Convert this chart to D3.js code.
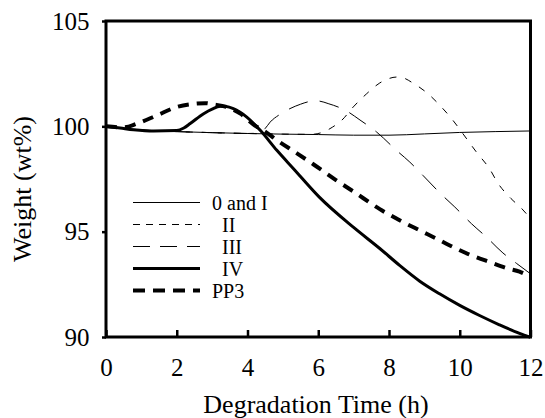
<!doctype html>
<html>
  <head>
    <meta charset="utf-8">
    <style>
      body { margin: 0; background: #fff; }
      svg, svg text { font-family: "Liberation Serif", "Times New Roman", serif !important; fill: #000; }
    </style>
  </head>
  <body>
    <div id="chart"></div>
    <script src="https://d3js.org/d3.v7.min.js"></script>
    <script>
      // data (time in h, weight in wt%)
      const time0I = [0, 0.5, 1, 1.5, 2, 3, 4, 5, 6, 7, 8, 9, 10, 11, 12];
      const weight0I = [100, 99.9, 99.83, 99.78, 99.75, 99.7, 99.66, 99.63, 99.61, 99.58, 99.58, 99.64, 99.71, 99.75, 99.78];

      const timeII = [0, 1, 2, 3, 4, 5, 5.8, 6.14, 6.4, 6.66, 6.99, 7.37, 7.74, 8.0, 8.21, 8.4, 8.68, 9.1, 9.48, 9.81, 10.09, 10.47, 10.84, 11.08, 11.45, 11.75, 12];
      const weightII = [100, 99.83, 99.75, 99.7, 99.66, 99.63, 99.62, 99.73, 99.96, 100.28, 100.92, 101.55, 102.06, 102.27, 102.34, 102.3, 102.05, 101.55, 100.92, 100.28, 99.65, 98.78, 97.99, 97.3, 96.57, 96.1, 95.62];

      const timeIII = [0, 1, 2, 3, 4, 4.3, 4.5, 4.64, 4.9, 5.2, 5.5, 5.77, 6.0, 6.28, 6.8, 7.18, 7.65, 8.21, 8.59, 8.96, 9.48, 9.86, 10.33, 10.75, 11.22, 11.6, 12];
      const weightIII = [100, 99.83, 99.75, 99.7, 99.66, 99.68, 99.9, 100.2, 100.55, 100.84, 101.05, 101.18, 101.2, 101.08, 100.73, 100.3, 99.73, 98.86, 98.3, 97.67, 96.77, 96.17, 95.38, 94.75, 93.99, 93.5, 93.0];

      const timeIV = [0, 0.4, 0.78, 1.35, 2.0, 2.2, 2.38, 2.76, 3.0, 3.23, 3.4, 3.6, 3.98, 4.36, 4.83, 5.3, 6.03, 7.0, 7.74, 8.3, 8.87, 9.43, 10.0, 10.56, 11.12, 11.69, 12];
      const weightIV = [100, 99.92, 99.84, 99.78, 99.8, 99.92, 100.13, 100.6, 100.82, 100.95, 100.94, 100.84, 100.44, 99.81, 98.86, 97.99, 96.64, 95.2, 94.2, 93.4, 92.65, 92.05, 91.5, 91.02, 90.58, 90.17, 89.98];

      const timePP3 = [0, 0.5, 0.88, 1.44, 2.0, 2.57, 2.8, 3.04, 3.4, 3.8, 4.2, 4.5, 4.83, 5.34, 5.86, 6.5, 7.0, 7.74, 8.3, 8.87, 9.34, 9.81, 10.28, 10.84, 11.36, 11.69, 12];
      const weightPP3 = [100, 99.95, 100.13, 100.52, 100.92, 101.08, 101.1, 101.04, 100.92, 100.6, 100.05, 99.75, 99.34, 98.78, 98.2, 97.45, 96.9, 96.07, 95.54, 95.06, 94.67, 94.27, 93.91, 93.56, 93.25, 93.1, 92.85];

      const seriesNames = ['0 and I', '  II', '  III', '  IV', 'PP3'];
      const xTicks = [0, 2, 4, 6, 8, 10, 12];
      const yTicks = [90, 95, 100, 105];

      const series = [
        { name: seriesNames[0], t: time0I, w: weight0I, width: 1, dash: null, legDash: null },
        { name: seriesNames[1], t: timeII, w: weightII, width: 1, dash: '7,9', legDash: '7,6' },
        { name: seriesNames[2], t: timeIII, w: weightIII, width: 1, dash: '20,12', legDash: '17,10' },
        { name: seriesNames[3], t: timeIV, w: weightIV, width: 3, dash: null, legDash: null },
        { name: seriesNames[4], t: timePP3, w: weightPP3, width: 4, dash: '11,8', legDash: '12,8' }
      ];

      const serif = '"Liberation Serif", "Times New Roman", serif';
      const width = 545, height = 418;
      const x = d3.scaleLinear().domain([0, 12]).range([106, 530.5]);
      const y = d3.scaleLinear().domain([90, 105]).range([337, 21]);

      const svg = d3.select('#chart').append('svg')
        .attr('width', width)
        .attr('height', height)
        .style('font-family', serif);

      const line = d3.line()
        .x(d => x(d[0]))
        .y(d => y(d[1]))
        .curve(d3.curveMonotoneX);

      const plot = svg.append('g');
      plot.append('defs').append('clipPath').attr('id', 'clip')
        .append('rect')
        .attr('x', x(0)).attr('y', y(105))
        .attr('width', x(12) - x(0)).attr('height', y(90) - y(105) + 2);

      plot.selectAll('path.series')
        .data(series)
        .join('path')
        .attr('class', 'series')
        .attr('clip-path', 'url(#clip)')
        .attr('fill', 'none')
        .attr('stroke', '#000')
        .attr('stroke-width', d => d.width)
        .attr('stroke-dasharray', d => d.dash)
        .attr('stroke-linejoin', 'round')
        .attr('d', d => line(d.t.map((t, i) => [t, d.w[i]])));

      // axes
      const xAxis = svg.append('g')
        .attr('transform', `translate(0,${y(90)})`)
        .call(d3.axisBottom(x).tickValues(xTicks).tickSizeInner(-7).tickSizeOuter(0).tickPadding(21));
      xAxis.attr('font-family', null);
      xAxis.select('.domain').remove();
      xAxis.selectAll('.tick line').attr('stroke-width', 2.5);
      xAxis.selectAll('.tick text').attr('font-size', 25).style('font-family', serif);

      const yAxis = svg.append('g')
        .attr('transform', `translate(${x(0)},0)`)
        .call(d3.axisLeft(y).tickValues(yTicks).tickSizeInner(4).tickSizeOuter(0).tickPadding(12.5));
      yAxis.attr('font-family', null);
      yAxis.select('.domain').remove();
      yAxis.selectAll('.tick line').attr('stroke-width', 2.5);
      yAxis.selectAll('.tick text').attr('font-size', 25).style('font-family', serif);

      // frame
      svg.append('rect')
        .attr('x', x(0)).attr('y', y(105))
        .attr('width', x(12) - x(0)).attr('height', y(90) - y(105))
        .attr('fill', 'none')
        .attr('stroke', '#000')
        .attr('stroke-width', 3);

      // axis titles
      svg.append('text')
        .attr('x', 316).attr('y', 413)
        .attr('text-anchor', 'middle')
        .attr('font-size', 26)
        .style('font-family', serif)
        .text('Degradation Time (h)');

      svg.append('text')
        .attr('transform', 'translate(31,189) rotate(-90)')
        .attr('text-anchor', 'middle')
        .attr('font-size', 26)
        .style('font-family', serif)
        .text('Weight (wt%)');

      // legend
      const legend = svg.append('g').attr('transform', 'translate(133,202.5)');
      const rows = legend.selectAll('g')
        .data(series)
        .join('g')
        .attr('transform', (d, i) => `translate(0,${i * 22})`);
      rows.append('line')
        .attr('x1', 0).attr('x2', 67)
        .attr('stroke', '#000')
        .attr('stroke-width', d => d.width)
        .attr('stroke-dasharray', d => d.legDash);
      rows.append('text')
        .attr('x', 79)
        .attr('dy', '0.35em')
        .attr('font-size', 20)
        .style('font-family', serif)
        .style('white-space', 'pre')
        .attr('xml:space', 'preserve')
        .text(d => d.name);
    </script>
  </body>
</html>
